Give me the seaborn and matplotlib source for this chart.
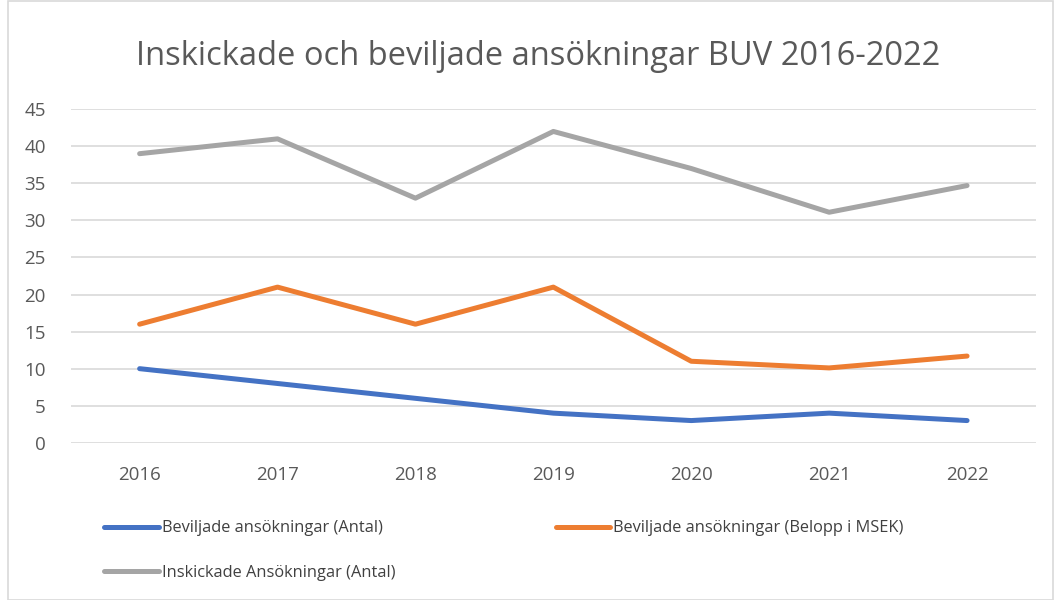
import numpy as np
import pandas as pd
import matplotlib.pyplot as plt
import seaborn as sns
from matplotlib.patches import Rectangle

years = ['2016', '2017', '2018', '2019', '2020', '2021', '2022']
beviljade_antal = [10, 8, 6, 4, 3, 4, 3]
beviljade_belopp = [16, 21, 16, 21, 11, 10.1, 11.7]
inskickade_antal = [39, 41, 33, 42, 37, 31.1, 34.7]

series_names = ['Beviljade ansökningar (Antal)',
                'Beviljade ansökningar (Belopp i MSEK)',
                'Inskickade Ansökningar (Antal)']
colors = ['#4472C4', '#ED7D31', '#A5A5A5']

df = pd.DataFrame({
    'pos': list(range(len(years))) * 3,
    'value': beviljade_antal + beviljade_belopp + inskickade_antal,
    'serie': [s for s in series_names for _ in years],
})

sns.set_style('white')
plt.rcParams['font.family'] = ['Open Sans', 'DejaVu Sans']

fig = plt.figure(figsize=(10.55, 6), dpi=100)
ax = fig.add_axes([0.067, 0.262, 0.915, 0.556])

sns.lineplot(data=df, x='pos', y='value', hue='serie', palette=colors,
             hue_order=series_names, linewidth=3.6, ax=ax, legend=True)
for ln in ax.lines:
    ln.set_solid_capstyle('round')

ax.set_xlim(-0.5, len(years) - 0.5)
ax.set_ylim(0, 45)
ax.set_yticks(range(0, 50, 5))
ax.set_xticks(range(len(years)))
ax.set_xticklabels(years)
ax.set_xlabel('')
ax.set_ylabel('')
ax.grid(axis='y', color='#D9D9D9', linewidth=1.2)
ax.set_axisbelow(True)
for sp in ax.spines.values():
    sp.set_visible(False)
ax.tick_params(axis='both', length=0, labelsize=13.5, colors='#595959')
ax.tick_params(axis='x', pad=17)
ax.tick_params(axis='y', pad=18)

fig.text(0.51, 0.906, 'Inskickade och beviljade ansökningar BUV 2016-2022',
         ha='center', va='center', fontsize=23.5, color='#595959')

handles, labels = ax.get_legend_handles_labels()
ax.legend_.remove()
order = [0, 2, 1]
leg = fig.legend([handles[i] for i in order], [labels[i] for i in order],
                 ncol=2, loc='lower left', bbox_to_anchor=(0.085, 0.007),
                 frameon=False, fontsize=11.8, handlelength=3.3, handletextpad=0.2,
                 columnspacing=9.8, labelspacing=1.75, labelcolor='#404040')
for h in leg.legend_handles:
    h.set_linewidth(3.6)
    h.set_solid_capstyle('round')

fig.patches.append(Rectangle((0.008, 0.0), 0.99, 0.998, transform=fig.transFigure,
                             fill=False, edgecolor='#D9D9D9', linewidth=1.2))

fig.savefig('out.png', dpi=100)
